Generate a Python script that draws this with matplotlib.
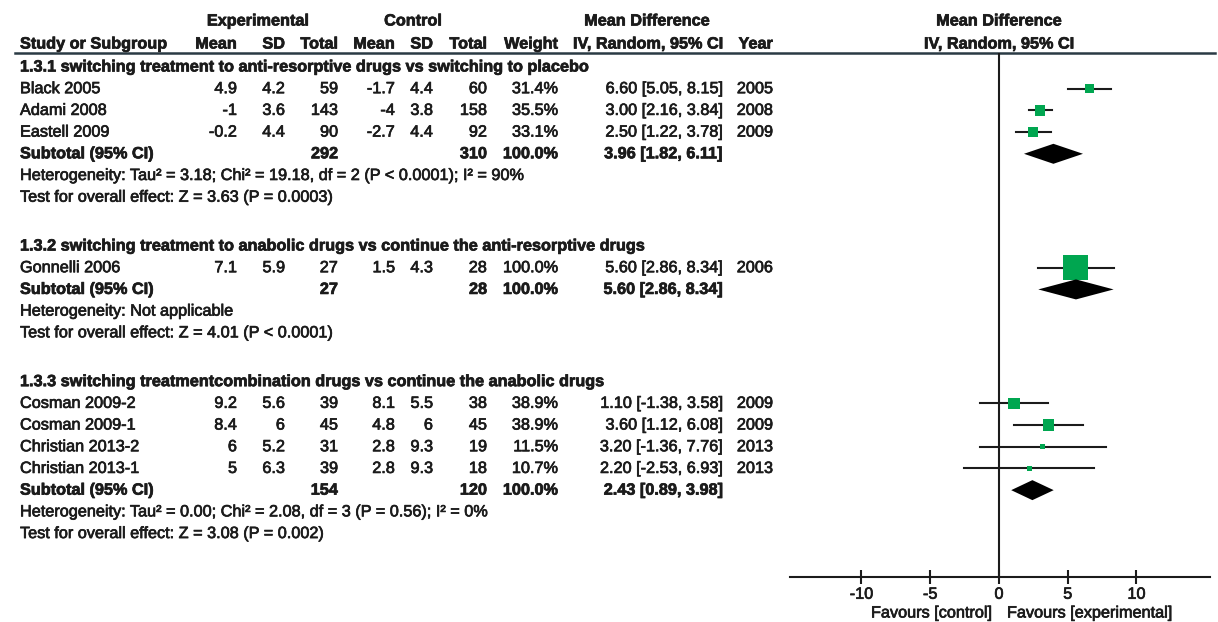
import matplotlib.pyplot as plt
import matplotlib.patheffects as pe
from matplotlib.patches import Polygon

plt.rcParams['font.family'] = ['Liberation Sans', 'DejaVu Sans']

# study rows
studies = ['Black 2005', 'Adami 2008', 'Eastell 2009', 'Gonnelli 2006',
           'Cosman 2009-2', 'Cosman 2009-1', 'Christian 2013-2', 'Christian 2013-1']
group_of = [0, 0, 0, 1, 2, 2, 2, 2]
exp_mean = [4.9, -1, -0.2, 7.1, 9.2, 8.4, 6, 5]
exp_sd = [4.2, 3.6, 4.4, 5.9, 5.6, 6, 5.2, 6.3]
exp_n = [59, 143, 90, 27, 39, 45, 31, 39]
ctl_mean = [-1.7, -4, -2.7, 1.5, 8.1, 4.8, 2.8, 2.8]
ctl_sd = [4.4, 3.8, 4.4, 4.3, 5.5, 6, 9.3, 9.3]
ctl_n = [60, 158, 92, 28, 38, 45, 19, 18]
weight = [31.4, 35.5, 33.1, 100.0, 38.9, 38.9, 11.5, 10.7]
md = [6.60, 3.00, 2.50, 5.60, 1.10, 3.60, 3.20, 2.20]
ci_lo = [5.05, 2.16, 1.22, 2.86, -1.38, 1.12, -1.36, -2.53]
ci_hi = [8.15, 3.84, 3.78, 8.34, 3.58, 6.08, 7.76, 6.93]
year = [2005, 2008, 2009, 2006, 2009, 2009, 2013, 2013]

# subgroups
group_titles = [
    '1.3.1 switching treatment to anti-resorptive drugs vs switching to placebo',
    '1.3.2 switching treatment to anabolic drugs vs continue the anti-resorptive drugs',
    '1.3.3 switching treatmentcombination drugs vs continue the anabolic drugs',
]
sub_exp_n = [292, 27, 154]
sub_ctl_n = [310, 28, 120]
sub_md = [3.96, 5.60, 2.43]
sub_lo = [1.82, 2.86, 0.89]
sub_hi = [6.11, 8.34, 3.98]
heterogeneity = [
    'Heterogeneity: Tau\u00b2 = 3.18; Chi\u00b2 = 19.18, df = 2 (P < 0.0001); I\u00b2 = 90%',
    'Heterogeneity: Not applicable',
    'Heterogeneity: Tau\u00b2 = 0.00; Chi\u00b2 = 2.08, df = 3 (P = 0.56); I\u00b2 = 0%',
]
overall = [
    'Test for overall effect: Z = 3.63 (P = 0.0003)',
    'Test for overall effect: Z = 4.01 (P < 0.0001)',
    'Test for overall effect: Z = 3.08 (P = 0.002)',
]
xticks = [-10, -5, 0, 5, 10]

W, H = 1218, 622
fig = plt.figure(figsize=(W / 100, H / 100), dpi=100)
fig.patch.set_facecolor('white')

# text layer in pixel units
tx = fig.add_axes([0, 0, 1, 1])
tx.set_xlim(0, W)
tx.set_ylim(H, 0)
tx.axis('off')

ink = '#1b1b1b'
fs = 11.7
green = '#00a650'
thick = [pe.withStroke(linewidth=0.5, foreground=ink)]

# right edges of the numeric columns
col_x = [237, 285, 338, 395, 433, 487, 558, 723, 773]


def put(x, y, s, ha='left', bold=False):
    tx.text(x, y, s, ha=ha, va='center', fontsize=fs, color=ink,
            fontweight='bold' if bold else 'normal', path_effects=thick)


# column headers
put(258, 21, 'Experimental', ha='center', bold=True)
put(413, 21, 'Control', ha='center', bold=True)
put(647, 21, 'Mean Difference', ha='center', bold=True)
put(999, 21, 'Mean Difference', ha='center', bold=True)
put(20, 44, 'Study or Subgroup', bold=True)
for x, s in zip(col_x, ['Mean', 'SD', 'Total', 'Mean', 'SD', 'Total', 'Weight',
                        'IV, Random, 95% CI', 'Year']):
    put(x, 44, s, ha='right', bold=True)
put(999, 44, 'IV, Random, 95% CI', ha='center', bold=True)
tx.plot([15, 1215], [53, 53], color='#2a3a44', lw=1.8)

# row layout
y0, step = 67, 21.7
group_start = [0, 8.25, 14.5]
study_y = []
sub_y = []
for g in range(3):
    k = group_start[g]
    put(20, y0 + step * k, group_titles[g], bold=True)
    k += 1
    for i in range(len(studies)):
        if group_of[i] != g:
            continue
        y = y0 + step * k
        study_y.append(y)
        vals = [f'{exp_mean[i]:g}', f'{exp_sd[i]:g}', str(exp_n[i]),
                f'{ctl_mean[i]:g}', f'{ctl_sd[i]:g}', str(ctl_n[i]),
                f'{weight[i]:.1f}%', f'{md[i]:.2f} [{ci_lo[i]:.2f}, {ci_hi[i]:.2f}]',
                str(year[i])]
        put(20, y, studies[i])
        for x, s in zip(col_x, vals):
            put(x, y, s, ha='right')
        k += 1
    y = y0 + step * k
    sub_y.append(y)
    put(20, y, 'Subtotal (95% CI)', bold=True)
    put(col_x[2], y, str(sub_exp_n[g]), ha='right', bold=True)
    put(col_x[5], y, str(sub_ctl_n[g]), ha='right', bold=True)
    put(col_x[6], y, '100.0%', ha='right', bold=True)
    put(col_x[7], y, f'{sub_md[g]:.2f} [{sub_lo[g]:.2f}, {sub_hi[g]:.2f}]',
        ha='right', bold=True)
    put(20, y0 + step * (k + 1), heterogeneity[g])
    put(20, y0 + step * (k + 2), overall[g])

# forest panel: x in mean-difference units, y in pixel rows
fx0, fx1 = 790, 1210
fy0, fy1 = 53, 577
ax = fig.add_axes([fx0 / W, 1 - fy1 / H, (fx1 - fx0) / W, (fy1 - fy0) / H])
ax.set_xlim(-15.2, 15.35)
ax.set_ylim(fy1, fy0)
ax.patch.set_alpha(0)
for s in ['top', 'left', 'right']:
    ax.spines[s].set_visible(False)
ax.spines['bottom'].set_color(ink)
ax.spines['bottom'].set_linewidth(1.5)
ax.set_yticks([])
ax.set_xticks(xticks)
ax.set_xticklabels([str(t) for t in xticks], fontsize=fs, color=ink)
for lab in ax.get_xticklabels():
    lab.set_path_effects(thick)
ax.tick_params(axis='x', direction='inout', length=10, width=1.5,
               color=ink, pad=2)
ax.axvline(0, color=ink, lw=1.5)

px_per_unit = (fx1 - fx0) / (15.35 + 15.2)
for i in range(len(studies)):
    y = study_y[i]
    ax.plot([ci_lo[i], ci_hi[i]], [y, y], color=ink, lw=1.5, zorder=2)
    side = 2.4 + 0.226 * weight[i]
    half_x = side / 2 / px_per_unit
    ax.add_patch(Polygon([(md[i] - half_x, y - side / 2), (md[i] + half_x, y - side / 2),
                          (md[i] + half_x, y + side / 2), (md[i] - half_x, y + side / 2)],
                         closed=True, facecolor=green, edgecolor='none', zorder=3))

for g in range(3):
    y = sub_y[g]
    ax.add_patch(Polygon([(sub_lo[g], y), (sub_md[g], y - 10), (sub_hi[g], y),
                          (sub_md[g], y + 10)], closed=True, facecolor='black',
                         edgecolor='none', zorder=3))

put(992, 613, 'Favours [control]', ha='right')
put(1007, 613, 'Favours [experimental]')

fig.savefig('out.png', dpi=100)
